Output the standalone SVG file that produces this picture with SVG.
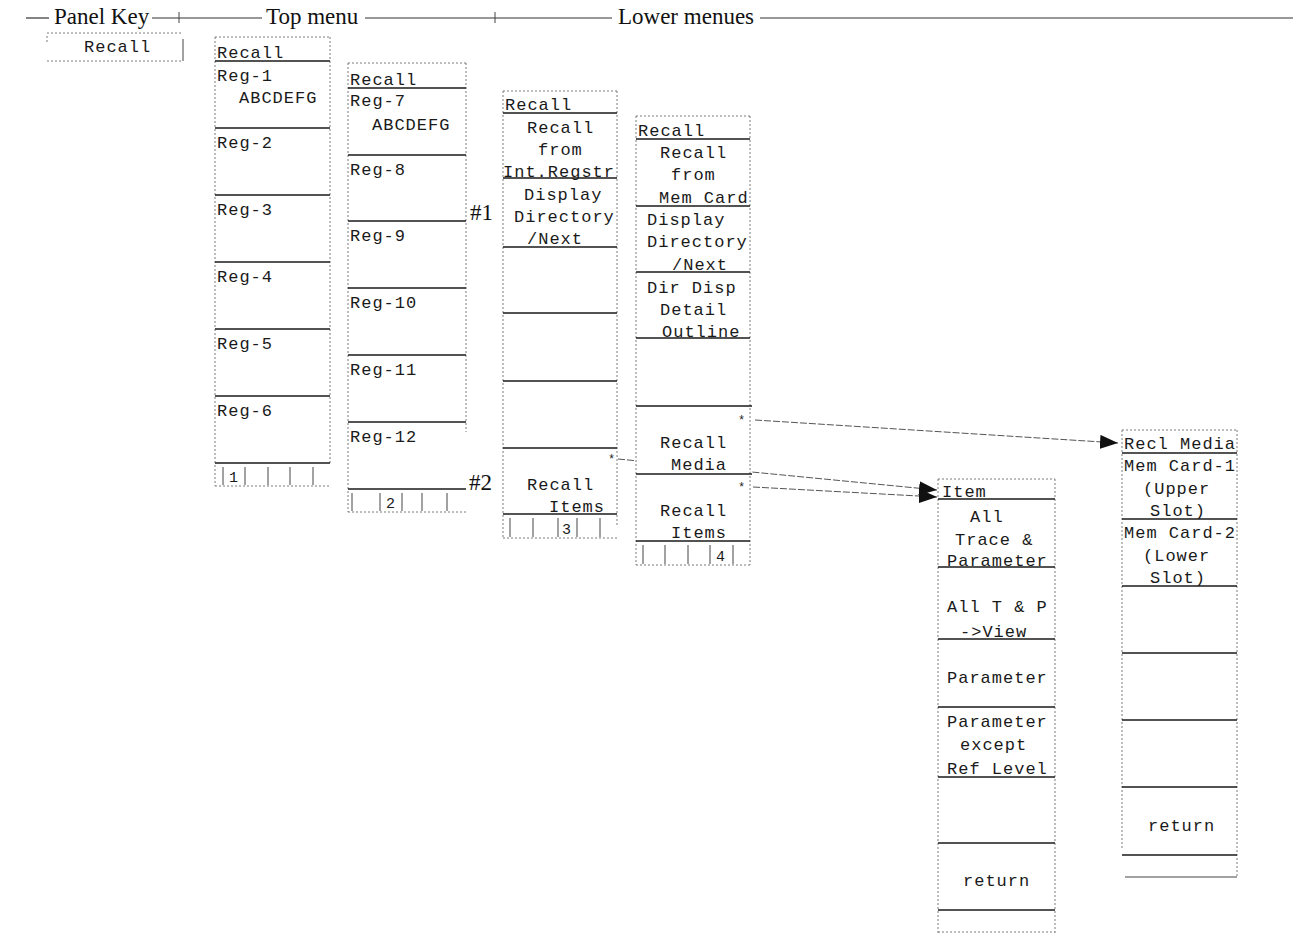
<svg xmlns="http://www.w3.org/2000/svg" width="1293" height="934" viewBox="0 0 1293 934">
<style>
.m{font-family:"Liberation Mono","Courier New",monospace;font-size:17px;letter-spacing:1px;fill:#1a1a1a}
.s{font-family:"Liberation Serif","Times New Roman",serif;font-size:23px;fill:#111}
.st{font-family:"Liberation Mono",monospace;font-size:12px;fill:#222}
.ed{stroke:#7a7a7a;stroke-width:1;stroke-dasharray:2 2;fill:none}
.sp{stroke:#1a1a1a;stroke-width:1.6}
.tk{stroke:#444;stroke-width:1}
.hl{stroke:#333;stroke-width:1.2}
.cn{stroke:#555;stroke-width:1;stroke-dasharray:7 2;fill:none}
.bg{fill:#fff}
</style>
<defs>
<marker id="arr" markerUnits="userSpaceOnUse" markerWidth="20" markerHeight="14" refX="18" refY="7" orient="auto"><path d="M0,0 L18,7 L0,14 z" fill="#111"/></marker>
</defs>
<rect width="1293" height="934" fill="#fff"/>
<g id="header">
<line class="hl" x1="26" y1="18" x2="49" y2="18"/>
<text class="s" x="54" y="24">Panel Key</text>
<line class="hl" x1="152" y1="18" x2="262" y2="18"/>
<line class="tk" x1="179" y1="12" x2="179" y2="23"/>
<text class="s" x="266" y="24">Top menu</text>
<line class="hl" x1="365" y1="18" x2="612" y2="18"/>
<line class="tk" x1="495" y1="12" x2="495" y2="23"/>
<text class="s" x="618" y="24">Lower menues</text>
<line class="hl" x1="760" y1="18" x2="1293" y2="18"/>
</g>
<g id="connectors">
<line class="cn" x1="755" y1="420" x2="1118" y2="443" marker-end="url(#arr)"/>
<line class="cn" x1="618" y1="459" x2="937" y2="490" marker-end="url(#arr)"/>
<line class="cn" x1="753" y1="487" x2="937" y2="497" marker-end="url(#arr)"/>
</g>
<g id="panel-key">
<line class="ed" x1="47" y1="33" x2="183" y2="33"/>
<line class="ed" x1="47" y1="61" x2="183" y2="61"/>
<line class="tk" x1="183" y1="39" x2="183" y2="61"/>
<line class="ed" x1="47" y1="36" x2="47" y2="44"/>
<text class="m" x="84" y="52">Recall</text>
</g>
<g id="top-menu-1">
<rect class="bg" x="215" y="37" width="115" height="449"/>
<line class="ed" x1="215" y1="37" x2="330" y2="37"/>
<line class="ed" x1="215" y1="37" x2="215" y2="486"/>
<line class="ed" x1="330" y1="37" x2="330" y2="463"/>
<line class="ed" x1="215" y1="486" x2="330" y2="486"/>
<line class="sp" x1="215" y1="61" x2="330" y2="61"/>
<line class="sp" x1="215" y1="128" x2="330" y2="128"/>
<line class="sp" x1="215" y1="195" x2="330" y2="195"/>
<line class="sp" x1="215" y1="262" x2="330" y2="262"/>
<line class="sp" x1="215" y1="329" x2="330" y2="329"/>
<line class="sp" x1="215" y1="396" x2="330" y2="396"/>
<line class="sp" x1="215" y1="463" x2="330" y2="463"/>
<text class="m" x="217" y="58">Recall</text>
<text class="m" x="217" y="81">Reg-1</text>
<text class="m" x="239" y="103">ABCDEFG</text>
<text class="m" x="217" y="148">Reg-2</text>
<text class="m" x="217" y="215">Reg-3</text>
<text class="m" x="217" y="282">Reg-4</text>
<text class="m" x="217" y="349">Reg-5</text>
<text class="m" x="217" y="416">Reg-6</text>
<line class="tk" x1="223" y1="467" x2="223" y2="485"/>
<line class="tk" x1="245" y1="467" x2="245" y2="485"/>
<line class="tk" x1="268" y1="467" x2="268" y2="485"/>
<line class="tk" x1="290" y1="467" x2="290" y2="485"/>
<line class="tk" x1="313" y1="467" x2="313" y2="485"/>
<text class="m" x="229" y="482" style="font-size:15px">1</text>
</g>
<g id="top-menu-2">
<rect class="bg" x="348" y="63" width="118" height="449"/>
<line class="ed" x1="348" y1="63" x2="466" y2="63"/>
<line class="ed" x1="348" y1="63" x2="348" y2="512"/>
<line class="ed" x1="466" y1="63" x2="466" y2="432"/>
<line class="ed" x1="348" y1="512" x2="466" y2="512"/>
<line class="sp" x1="348" y1="88" x2="466" y2="88"/>
<line class="sp" x1="348" y1="155" x2="466" y2="155"/>
<line class="sp" x1="348" y1="221" x2="466" y2="221"/>
<line class="sp" x1="348" y1="288" x2="466" y2="288"/>
<line class="sp" x1="348" y1="355" x2="466" y2="355"/>
<line class="sp" x1="348" y1="422" x2="466" y2="422"/>
<line class="sp" x1="348" y1="489" x2="466" y2="489"/>
<text class="m" x="350" y="85">Recall</text>
<text class="m" x="350" y="106">Reg-7</text>
<text class="m" x="372" y="130">ABCDEFG</text>
<text class="m" x="350" y="175">Reg-8</text>
<text class="m" x="350" y="241">Reg-9</text>
<text class="m" x="350" y="308">Reg-10</text>
<text class="m" x="350" y="375">Reg-11</text>
<text class="m" x="350" y="442">Reg-12</text>
<line class="tk" x1="352" y1="493" x2="352" y2="511"/>
<line class="tk" x1="380" y1="493" x2="380" y2="511"/>
<line class="tk" x1="402" y1="493" x2="402" y2="511"/>
<line class="tk" x1="422" y1="493" x2="422" y2="511"/>
<line class="tk" x1="447" y1="493" x2="447" y2="511"/>
<text class="m" x="386" y="508" style="font-size:15px">2</text>
</g>
<g id="marks">
<text class="s" x="470" y="220">#1</text>
<text class="s" x="469" y="490">#2</text>
</g>
<g id="lower-menu-3">
<rect class="bg" x="503" y="91" width="114" height="447"/>
<line class="ed" x1="503" y1="91" x2="617" y2="91"/>
<line class="ed" x1="503" y1="91" x2="503" y2="538"/>
<line class="ed" x1="617" y1="91" x2="617" y2="527"/>
<line class="ed" x1="503" y1="538" x2="617" y2="538"/>
<line class="sp" x1="503" y1="113" x2="617" y2="113"/>
<line class="sp" x1="503" y1="178" x2="617" y2="178"/>
<line class="sp" x1="503" y1="247" x2="617" y2="247"/>
<line class="sp" x1="503" y1="313" x2="617" y2="313"/>
<line class="sp" x1="503" y1="381" x2="617" y2="381"/>
<line class="sp" x1="503" y1="448" x2="617" y2="448"/>
<line class="sp" x1="503" y1="514" x2="617" y2="514"/>
<text class="m" x="505" y="110">Recall</text>
<text class="m" x="527" y="133">Recall</text>
<text class="m" x="538" y="155">from</text>
<text class="m" x="503" y="177">Int.Regstr</text>
<text class="m" x="524" y="200">Display</text>
<text class="m" x="514" y="222">Directory</text>
<text class="m" x="527" y="244">/Next</text>
<text class="st" x="608" y="463">*</text>
<text class="m" x="527" y="490">Recall</text>
<text class="m" x="549" y="512">Items</text>
<line class="tk" x1="510" y1="518" x2="510" y2="537"/>
<line class="tk" x1="533" y1="518" x2="533" y2="537"/>
<line class="tk" x1="558" y1="518" x2="558" y2="537"/>
<line class="tk" x1="577" y1="518" x2="577" y2="537"/>
<line class="tk" x1="600" y1="518" x2="600" y2="537"/>
<text class="m" x="562" y="534" style="font-size:15px">3</text>
</g>
<g id="lower-menu-4">
<rect class="bg" x="636" y="116" width="114" height="449"/>
<line class="ed" x1="636" y1="116" x2="750" y2="116"/>
<line class="ed" x1="636" y1="116" x2="636" y2="565"/>
<line class="ed" x1="750" y1="116" x2="750" y2="565"/>
<line class="ed" x1="636" y1="565" x2="750" y2="565"/>
<line class="sp" x1="636" y1="139" x2="750" y2="139"/>
<line class="sp" x1="636" y1="206" x2="750" y2="206"/>
<line class="sp" x1="636" y1="272" x2="750" y2="272"/>
<line class="sp" x1="636" y1="338" x2="750" y2="338"/>
<line class="sp" x1="636" y1="406" x2="752" y2="406"/>
<line class="sp" x1="636" y1="474" x2="752" y2="474"/>
<line class="sp" x1="636" y1="541" x2="750" y2="541"/>
<text class="m" x="638" y="136">Recall</text>
<text class="m" x="660" y="158">Recall</text>
<text class="m" x="671" y="180">from</text>
<text class="m" x="659" y="203">Mem Card</text>
<text class="m" x="647" y="225">Display</text>
<text class="m" x="647" y="247">Directory</text>
<text class="m" x="672" y="270">/Next</text>
<text class="m" x="647" y="293">Dir Disp</text>
<text class="m" x="660" y="315">Detail</text>
<text class="m" x="662" y="337">Outline</text>
<text class="st" x="738" y="424">*</text>
<text class="m" x="660" y="448">Recall</text>
<text class="m" x="671" y="470">Media</text>
<text class="st" x="738" y="491">*</text>
<text class="m" x="660" y="516">Recall</text>
<text class="m" x="671" y="538">Items</text>
<line class="tk" x1="643" y1="545" x2="643" y2="564"/>
<line class="tk" x1="665" y1="545" x2="665" y2="564"/>
<line class="tk" x1="688" y1="545" x2="688" y2="564"/>
<line class="tk" x1="710" y1="545" x2="710" y2="564"/>
<line class="tk" x1="733" y1="545" x2="733" y2="564"/>
<text class="m" x="716" y="561" style="font-size:15px">4</text>
</g>
<g id="item-menu">
<rect class="bg" x="938" y="479" width="117" height="455"/>
<line class="ed" x1="938" y1="479" x2="1055" y2="479"/>
<line class="ed" x1="938" y1="479" x2="938" y2="934"/>
<line class="ed" x1="1055" y1="479" x2="1055" y2="934"/>
<line class="ed" x1="938" y1="932" x2="1055" y2="932"/>
<line class="sp" x1="938" y1="499" x2="1055" y2="499"/>
<line class="sp" x1="938" y1="567" x2="1055" y2="567"/>
<line class="sp" x1="938" y1="639" x2="1055" y2="639"/>
<line class="sp" x1="938" y1="707" x2="1055" y2="707"/>
<line class="sp" x1="938" y1="777" x2="1055" y2="777"/>
<line class="sp" x1="938" y1="843" x2="1055" y2="843"/>
<line class="sp" x1="938" y1="910" x2="1055" y2="910"/>
<text class="m" x="942" y="497">Item</text>
<text class="m" x="970" y="522">All</text>
<text class="m" x="955" y="545">Trace &amp;</text>
<text class="m" x="947" y="566">Parameter</text>
<text class="m" x="947" y="612">All T &amp; P</text>
<text class="m" x="960" y="637">-&gt;View</text>
<text class="m" x="947" y="683">Parameter</text>
<text class="m" x="947" y="727">Parameter</text>
<text class="m" x="960" y="750">except</text>
<text class="m" x="947" y="774">Ref Level</text>
<text class="m" x="963" y="886">return</text>
</g>
<g id="recl-media-menu">
<rect class="bg" x="1122" y="430" width="115" height="447"/>
<line class="ed" x1="1122" y1="430" x2="1237" y2="430"/>
<line class="ed" x1="1122" y1="430" x2="1122" y2="850"/>
<line class="ed" x1="1237" y1="430" x2="1237" y2="877"/>
<line class="sp" x1="1122" y1="453" x2="1237" y2="453"/>
<line class="sp" x1="1122" y1="519" x2="1237" y2="519"/>
<line class="sp" x1="1122" y1="586" x2="1237" y2="586"/>
<line class="sp" x1="1122" y1="653" x2="1237" y2="653"/>
<line class="sp" x1="1122" y1="720" x2="1237" y2="720"/>
<line class="sp" x1="1122" y1="787" x2="1237" y2="787"/>
<line class="sp" x1="1122" y1="855" x2="1237" y2="855"/>
<line class="tk" x1="1125" y1="877" x2="1237" y2="877"/>
<text class="m" x="1124" y="449">Recl Media</text>
<text class="m" x="1124" y="471">Mem Card-1</text>
<text class="m" x="1143" y="494">(Upper</text>
<text class="m" x="1150" y="516">Slot)</text>
<text class="m" x="1124" y="538">Mem Card-2</text>
<text class="m" x="1143" y="561">(Lower</text>
<text class="m" x="1150" y="583">Slot)</text>
<text class="m" x="1148" y="831">return</text>
</g>
</svg>
